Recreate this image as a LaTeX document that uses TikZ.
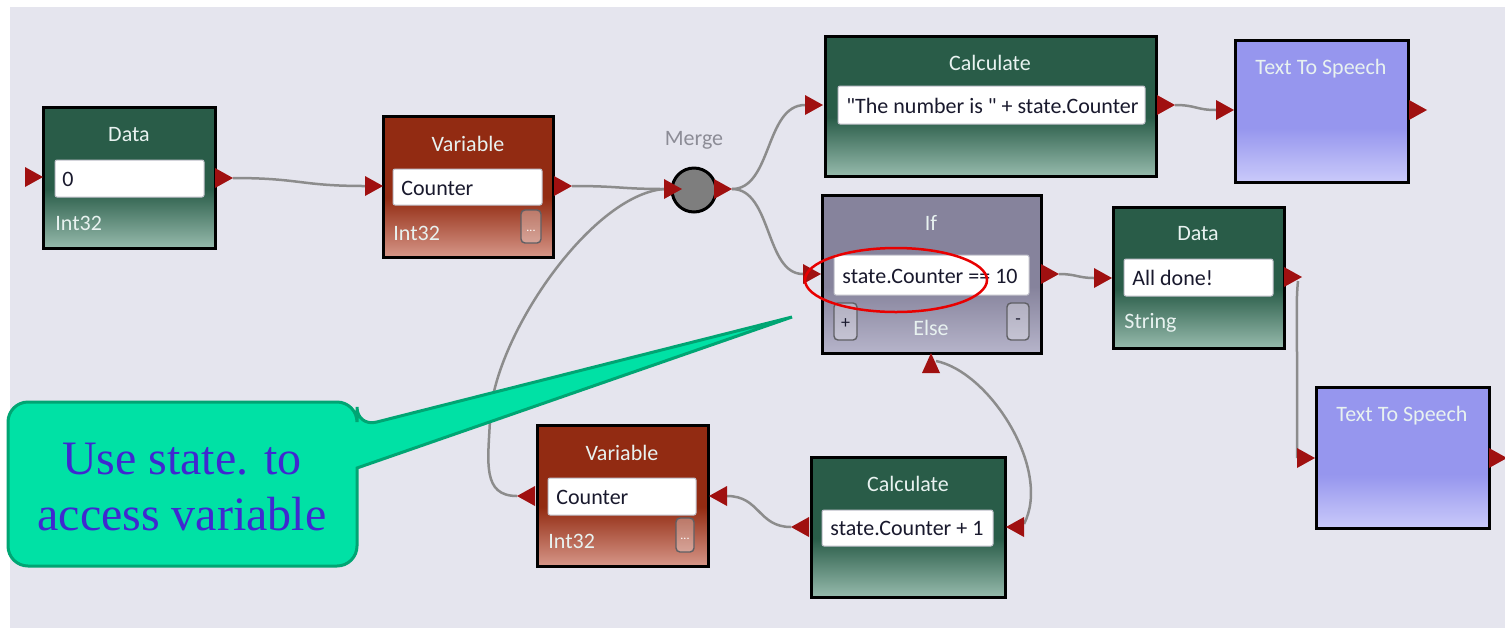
\documentclass[tikz,border=0pt]{standalone}
\usepackage{fontspec}
\setmainfont{Carlito}
\newfontfamily\uifont{Carlito}
\newfontfamily\calloutfont{Liberation Serif}
\usetikzlibrary{fit}

% palette
\definecolor{canvas}{RGB}{229,229,238}
\definecolor{grnT}{RGB}{41,92,72}
\definecolor{grnB}{RGB}{150,186,172}
\definecolor{varT}{RGB}{146,43,18}
\definecolor{varB}{RGB}{214,150,136}
\definecolor{ifT}{RGB}{134,131,156}
\definecolor{ifB}{RGB}{182,180,202}
\definecolor{ttsT}{RGB}{150,150,238}
\definecolor{ttsB}{RGB}{202,202,250}
\definecolor{portred}{RGB}{160,16,16}
\definecolor{wire}{RGB}{140,140,140}
\definecolor{calloutfill}{RGB}{0,225,165}
\definecolor{calloutedge}{RGB}{0,165,115}
\definecolor{calloutink}{RGB}{64,40,208}
\definecolor{titleink}{RGB}{232,242,240}
\definecolor{valink}{RGB}{25,25,45}
\definecolor{mergegray}{RGB}{126,126,126}
\definecolor{mergeink}{RGB}{140,140,150}
\definecolor{ringred}{RGB}{232,0,0}

% block fills: solid top colour fading to a light bottom
\pgfdeclareverticalshading{greenshade}{100bp}{color(0bp)=(grnB); color(25bp)=(grnB); color(46bp)=(grnT); color(100bp)=(grnT)}
\pgfdeclareverticalshading{varshade}{100bp}{color(0bp)=(varB); color(25bp)=(varB); color(46bp)=(varT); color(100bp)=(varT)}
\pgfdeclareverticalshading{ifshade}{100bp}{color(0bp)=(ifB); color(25bp)=(ifB); color(46bp)=(ifT); color(100bp)=(ifT)}
\pgfdeclareverticalshading{ttsshade}{100bp}{color(0bp)=(ttsB); color(25bp)=(ttsB); color(44bp)=(ttsT); color(100bp)=(ttsT)}

% ports: coordinate at the point where a wire attaches
\newcommand\inE[2]{\coordinate (#1) at (#2); \fill[portred] (#1) ++(0,-10) -- ++(18,10) -- ++(-18,10) -- cycle;}
\newcommand\outE[2]{\coordinate (#1) at (#2); \fill[portred] (#1) -- ++(-18,-10) -- ++(0,20) -- cycle;}
\newcommand\inW[2]{\coordinate (#1) at (#2); \fill[portred] (#1) ++(0,-10) -- ++(-18,10) -- ++(18,10) -- cycle;}
\newcommand\outW[2]{\coordinate (#1) at (#2); \fill[portred] (#1) -- ++(18,-10) -- ++(0,20) -- cycle;}

\begin{document}
\begin{tikzpicture}[x=0.5pt,y=-0.5pt,
  blk/.style={draw=black, line width=1.5pt, inner sep=0pt, shade},
  ttl/.style={text=titleink, font=\uifont\fontsize{11}{13}\selectfont, inner sep=0pt},
  typ/.style={text=titleink, font=\uifont\fontsize{11}{13}\selectfont, inner sep=0pt, anchor=west},
  tbox/.style={draw={rgb,255:red,190;green,190;blue,200}, line width=0.5pt, fill=white, rounded corners=1pt, inner sep=0pt},
  val/.style={text=valink, font=\uifont\fontsize{11}{13}\selectfont, inner sep=0pt, anchor=west},
  btn/.style={draw={rgb,255:red,95;green,95;blue,100}, line width=0.7pt, rounded corners=2pt, fill=white, fill opacity=0.3, text opacity=1, inner sep=0pt},
  wirestyle/.style={draw=wire, line width=1.25pt},
]
\useasboundingbox (0,0) rectangle (1505,628);
\fill[canvas] (10,7) rectangle (1505,628);

% ---- blocks ----
% Data (Int32)
\node[blk, shading=greenshade, fit={(43,107) (215,248)}] (d1) {};
\node[ttl] (d1t) at (129,135) {Data};
\node[tbox, fit={(55,160) (204,197)}] (d1b) {};
\node[val] (d1v) at (62,179) {0};
\node[typ] (d1y) at (55,223) {Int32};

% Variable (top)
\node[blk, shading=varshade, fit={(383,116) (553,257)}] (v1) {};
\node[ttl] (v1t) at (468,144) {Variable};
\node[tbox, fit={(393,169) (542,205)}] (v1b) {};
\node[val] (v1v) at (401,188) {Counter};
\node[typ] (v1y) at (393,233) {Int32};
\node[btn, fit={(521,210) (541,243)}] (v1k) {};
\node[text=white, font=\fontsize{6}{6}\selectfont, inner sep=0pt] (v1kt) at (531,231) {...};

% Merge
\node[circle, draw=black, line width=1.5pt, fill=mergegray, minimum size=22pt, inner sep=0pt] (mg) at (694,190) {};
\node[text=mergeink, font=\uifont\fontsize{11}{13}\selectfont, inner sep=0pt] (mgt) at (694,140) {Merge};

% Calculate (top)
\node[blk, shading=greenshade, fit={(825,36) (1156,176)}] (c1) {};
\node[ttl] (c1t) at (990,63) {Calculate};
\node[tbox, fit={(838,86) (1145,124)}] (c1b) {};
\node[val] (c1v) at (846,106) {"The number is " + state.Counter};

% Text To Speech (top)
\node[blk, shading=ttsshade, fit={(1235,40) (1408,182)}] (t1) {};
\node[ttl] (t1t) at (1321,69) {Text To Speech};

% If
\node[blk, shading=ifshade, fit={(822,195) (1041,353)}] (if) {};
\node[ttl] (ift) at (931,223) {If};
\node[tbox, fit={(834,255) (1029,295)}] (ifb) {};
\node[val] (ifv) at (842,276) {state.Counter == 10};
\node[btn, fit={(834,303) (857,340)}] (ifp) {};
\node[text=valink, font=\fontsize{9}{9}\selectfont, inner sep=0pt] (ifpt) at (845.5,324) {+};
\node[btn, fit={(1007,303) (1029,340)}] (ifm) {};
\node[text=valink, font=\fontsize{9}{9}\selectfont, inner sep=0pt] (ifmt) at (1018,322) {-};
\node[ttl] (ife) at (931,328) {Else};

% Data (String)
\node[blk, shading=greenshade, fit={(1113,207) (1284,348)}] (d2) {};
\node[ttl] (d2t) at (1198,234) {Data};
\node[tbox, fit={(1124,259) (1273,296)}] (d2b) {};
\node[val] (d2v) at (1132,278) {All done!};
\node[typ] (d2y) at (1124,323) {String};

% Text To Speech (bottom)
\node[blk, shading=ttsshade, fit={(1316,387) (1489,528)}] (t2) {};
\node[ttl] (t2t) at (1402,416) {Text To Speech};

% Variable (bottom)
\node[blk, shading=varshade, fit={(537,425) (708,566)}] (v2) {};
\node[ttl] (v2t) at (622,453) {Variable};
\node[tbox, fit={(548,478) (696,515)}] (v2b) {};
\node[val] (v2v) at (556,497) {Counter};
\node[typ] (v2y) at (548,541) {Int32};
\node[btn, fit={(676,518) (694,552)}] (v2k) {};
\node[text=white, font=\fontsize{6}{6}\selectfont, inner sep=0pt] (v2kt) at (685,539) {...};

% Calculate (bottom)
\node[blk, shading=greenshade, fit={(811,457) (1005,597)}] (c2) {};
\node[ttl] (c2t) at (908,484) {Calculate};
\node[tbox, fit={(822,510) (993,546)}] (c2b) {};
\node[val] (c2v) at (830,528) {state.Counter + 1};

% ---- port coordinates (wires are drawn before the triangles) ----
\coordinate (d1out) at (233,178);
\coordinate (v1in) at (365,186);
\coordinate (v1out) at (572,186);
\coordinate (mgin) at (664,189);
\coordinate (mgout) at (732,189);
\coordinate (c1in) at (805,105);
\coordinate (c1out) at (1175,105);
\coordinate (t1in) at (1216,110);
\coordinate (ifin) at (803,274);
\coordinate (ifout) at (1059,274);
\coordinate (ifbot) at (936,361);
\coordinate (d2in) at (1094,278);
\coordinate (d2out) at (1298,281);
\coordinate (t2in) at (1297,458);
\coordinate (c2in) at (1024,524);
\coordinate (c2out) at (791,527);
\coordinate (v2in) at (727,496);
\coordinate (v2out) at (517,496);

% ---- wires ----
\draw[wirestyle] (d1out) .. controls (300,178) and (300,186) .. (v1in);
\draw[wirestyle] (v1out) .. controls (620,186) and (620,189) .. (mgin);
\draw[wirestyle] (v2out) .. controls (482,496) and (488,462) .. (490,420)
                         .. controls (492,340) and (590,195) .. (mgin);
\draw[wirestyle] (mgout) .. controls (772,189) and (765,105) .. (c1in);
\draw[wirestyle] (mgout) .. controls (772,189) and (765,274) .. (ifin);
\draw[wirestyle] (c1out) .. controls (1196,105) and (1196,110) .. (t1in);
\draw[wirestyle] (ifout) .. controls (1076,274) and (1078,278) .. (d2in);
\draw[wirestyle] (d2out) .. controls (1296,300) and (1297,320) .. (1297,360) -- (t2in);
\draw[wirestyle] (ifbot) .. controls (990,372) and (1052,470) .. (c2in);
\draw[wirestyle] (c2out) .. controls (758,527) and (760,496) .. (v2in);

% ---- port triangles ----
\inE{d1in}{25,177}
\outE{d1o}{233,178}
\inE{v1i}{365,186}
\outE{v1o}{572,186}
\inE{mgi}{664,189}
\outE{mgo}{732,189}
\inE{c1i}{805,105}
\outE{c1o}{1175,105}
\inE{t1i}{1216,110}
\outE{t1out}{1427,110}
\inE{ifi}{803,274}
\outE{ifo}{1059,274}
\fill[portred] (931,353) -- (940,373) -- (922,373) -- cycle;
\inE{d2i}{1094,278}
\outE{d2o}{1302,277}
\inE{t2i}{1297,458}
\outE{t2out}{1507,458}
\inW{c2i}{1024,527}
\outW{c2o}{791,527}
\inW{v2i}{727,496}
\outW{v2o}{517,496}

% highlight ring round the condition
\draw[ringred, line width=1.25pt] (896,280) ellipse [x radius=91, y radius=32];

% ---- callout ----
\draw[calloutedge, fill=calloutfill, line width=1.5pt]
  (180,402) [rounded corners=10pt] -- (357,402) -- (357,427) [sharp corners] -- (792,317) -- (357,468)
  [rounded corners=10pt] -- (357,566) -- (8,566) -- (8,402) -- cycle;
\node[text=calloutink, font=\calloutfont\fontsize{24}{28}\selectfont, align=center, inner sep=0pt] (note) at (182,487) {Use state. to\\access variable};
\end{tikzpicture}
\end{document}
